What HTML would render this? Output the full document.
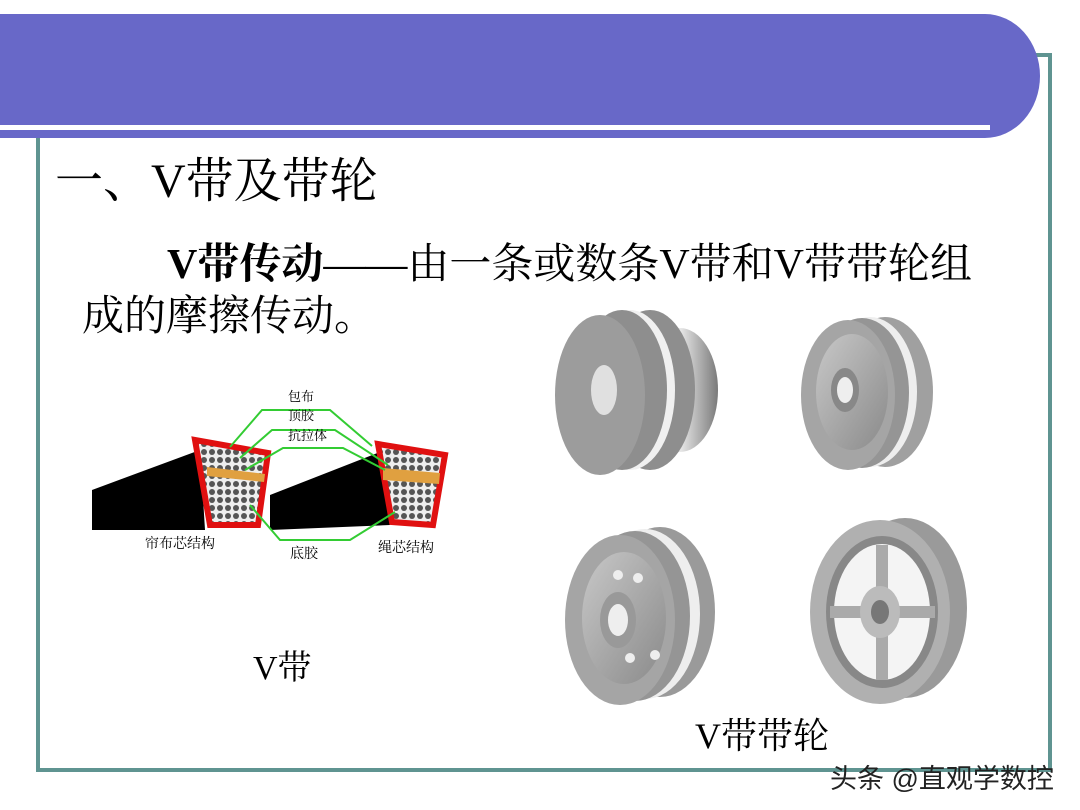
<!DOCTYPE html>
<html><head><meta charset="utf-8"><style>
html,body{margin:0;padding:0;background:#fff;}
body{width:1080px;height:810px;position:relative;overflow:hidden;font-family:"Liberation Serif","Noto Serif CJK SC",serif;}
.t{position:absolute;white-space:nowrap;color:#000;}
</style></head><body>
<svg width="1080" height="810" style="position:absolute;left:0;top:0">
<defs>
<linearGradient id="g1" x1="0" x2="1"><stop offset="0" stop-color="#9a9a9a"/><stop offset=".5" stop-color="#e8e8e8"/><stop offset="1" stop-color="#7a7a7a"/></linearGradient>
<linearGradient id="g2" x1="0" x2="1" y1="0" y2="1"><stop offset="0" stop-color="#c8c8c8"/><stop offset="1" stop-color="#8a8a8a"/></linearGradient>
<pattern id="mesh" width="8" height="8" patternUnits="userSpaceOnUse"><rect width="8" height="8" fill="#eee"/><circle cx="4" cy="4" r="3" fill="#555"/></pattern>
</defs>
<rect x="38" y="55" width="1012" height="715" fill="none" stroke="#5f9491" stroke-width="4"/>
<path d="M0 14 H985 A55 62 0 0 1 985 138 H0 Z" fill="#6868c8"/>
<rect x="0" y="125" width="990" height="5" fill="#fff"/>
<polygon points="92,490 200,450 205,530 92,530" fill="#000"/>
<polygon points="195,440 268,453 258,525 210,525" fill="url(#mesh)" stroke="#e01010" stroke-width="6"/>
<polygon points="207,467 265,474 264,482 207,476" fill="#e0a040"/>
<polygon points="270,495 380,452 390,525 270,530" fill="#000"/>
<polygon points="378,444 445,455 433,525 392,522" fill="url(#mesh)" stroke="#e01010" stroke-width="6"/>
<polygon points="383,468 440,473 439,484 383,480" fill="#e0a040"/>
<g stroke="#33cc33" stroke-width="2" fill="none">
<polyline points="230,447 262,410 330,410 372,446"/>
<polyline points="240,458 272,430 335,430 388,465"/>
<polyline points="245,470 283,448 343,448 385,470"/>
<polyline points="250,505 280,540 350,540 395,512"/>
</g>
<ellipse cx="680" cy="390" rx="38" ry="62" fill="url(#g1)"/>
<ellipse cx="650" cy="390" rx="45" ry="80" fill="#8e8e8e"/>
<ellipse cx="630" cy="390" rx="45" ry="80" fill="#f0f0f0"/>
<ellipse cx="622" cy="390" rx="45" ry="80" fill="#8e8e8e"/>
<ellipse cx="600" cy="395" rx="45" ry="80" fill="#9c9c9c"/>
<ellipse cx="604" cy="390" rx="13" ry="25" fill="#e0e0e0"/>
<ellipse cx="885" cy="392" rx="48" ry="75" fill="#a0a0a0"/>
<ellipse cx="870" cy="392" rx="47" ry="75" fill="#eee"/>
<ellipse cx="862" cy="393" rx="47" ry="75" fill="#959595"/>
<ellipse cx="848" cy="395" rx="47" ry="75" fill="#a5a5a5"/>
<ellipse cx="852" cy="392" rx="36" ry="58" fill="url(#g2)"/>
<ellipse cx="845" cy="390" rx="14" ry="22" fill="#888"/>
<ellipse cx="845" cy="390" rx="8" ry="13" fill="#eee"/>
<ellipse cx="660" cy="612" rx="55" ry="85" fill="#9a9a9a"/>
<ellipse cx="645" cy="614" rx="55" ry="85" fill="#eee"/>
<ellipse cx="635" cy="616" rx="55" ry="85" fill="#959595"/>
<ellipse cx="620" cy="620" rx="55" ry="85" fill="#a5a5a5"/>
<ellipse cx="624" cy="618" rx="42" ry="66" fill="url(#g2)"/>
<ellipse cx="618" cy="620" rx="18" ry="28" fill="#999"/>
<ellipse cx="618" cy="620" rx="10" ry="16" fill="#eee"/>
<g fill="#eee"><circle cx="618" cy="575" r="5"/><circle cx="638" cy="578" r="5"/><circle cx="630" cy="658" r="5"/><circle cx="655" cy="655" r="5"/></g>
<ellipse cx="905" cy="608" rx="62" ry="90" fill="#9a9a9a"/>
<ellipse cx="880" cy="612" rx="70" ry="92" fill="#b0b0b0"/>
<ellipse cx="882" cy="612" rx="56" ry="76" fill="#888"/>
<ellipse cx="882" cy="612" rx="48" ry="68" fill="#f4f4f4"/>
<g stroke="#aaa" stroke-width="12"><line x1="882" y1="545" x2="882" y2="680"/><line x1="830" y1="612" x2="935" y2="612"/></g>
<ellipse cx="880" cy="612" rx="20" ry="26" fill="#bbb"/>
<ellipse cx="880" cy="612" rx="9" ry="12" fill="#777"/>
</svg>
<div class="t" style="left:55px;top:142px;font-size:48px;">一、V带及带轮</div>
<div class="t" style="left:167px;top:231px;font-size:42px;"><b>V带传动</b>——由一条或数条V带和V带带轮组</div>
<div class="t" style="left:82px;top:283px;font-size:42px;">成的摩擦传动。</div>
<div class="t" style="left:288px;top:386px;font-size:13px;">包布</div>
<div class="t" style="left:288px;top:405px;font-size:13px;">顶胶</div>
<div class="t" style="left:288px;top:425px;font-size:13px;">抗拉体</div>
<div class="t" style="left:145px;top:533px;font-size:14px;">帘布芯结构</div>
<div class="t" style="left:290px;top:543px;font-size:14px;">底胶</div>
<div class="t" style="left:378px;top:537px;font-size:14px;">绳芯结构</div>
<div class="t" style="left:253px;top:640px;font-size:34px;">V带</div>
<div class="t" style="left:695px;top:708px;font-size:36px;">V带带轮</div>
<div class="t" style="left:830px;top:757px;font-size:27px;font-family:'Liberation Sans','Noto Sans CJK SC',sans-serif;color:#222;">头条 @直观学数控</div>
</body></html>
